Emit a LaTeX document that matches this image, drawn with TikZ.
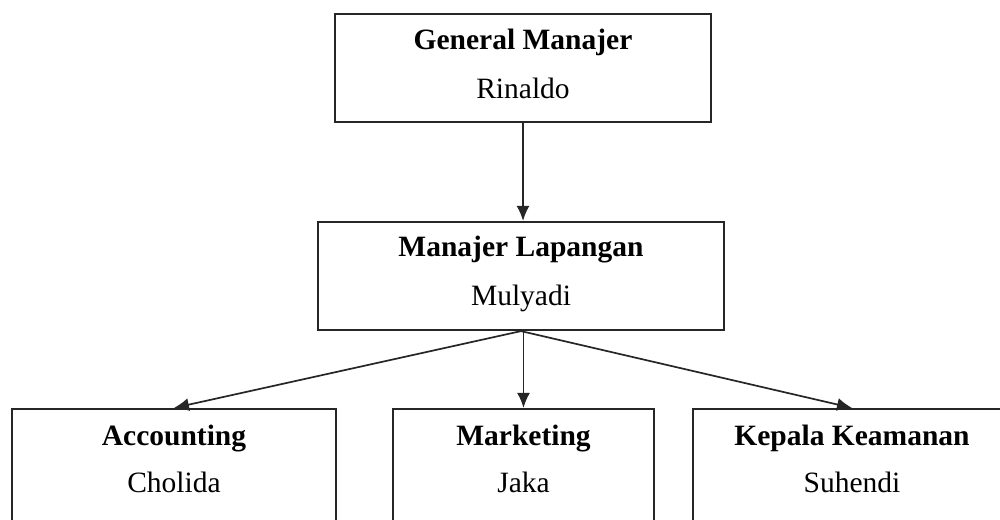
\documentclass[tikz,border=0pt]{standalone}
\usepackage{fontspec}
\setmainfont{Liberation Serif}
\usetikzlibrary{arrows.meta}
\begin{document}
\begin{tikzpicture}[x=1pt,y=-1pt,
  box/.style={draw=black!85, line width=2.2pt, rectangle, inner sep=0pt},
  title/.style={anchor=base, font=\fontsize{29.5}{32}\selectfont\bfseries, inner sep=0pt},
  person/.style={anchor=base, font=\fontsize{29.5}{32}\selectfont, inner sep=0pt},
  link/.style={draw=black!85, line width=1.7pt, -{Latex[length=15pt,width=13pt]}}]
\useasboundingbox (0,0) rectangle (1000,519);
\clip (0,0) rectangle (1000,519);
% boxes
\node[box, minimum width=376pt, minimum height=108pt] (gm) at (523,68) {};
\node[box, minimum width=406pt, minimum height=108pt] (ml) at (521,276) {};
\node[box, minimum width=324pt, minimum height=140pt] (acc) at (174,479) {};
\node[box, minimum width=261pt, minimum height=140pt] (mkt) at (523.5,479) {};
\node[box, minimum width=318pt, minimum height=140pt] (kep) at (852,479) {};
% texts
\node[title] (gmT) at (523,49) {General Manajer};
\node[person] (gmN) at (523,98) {Rinaldo};
\node[title] (mlT) at (521,256) {Manajer Lapangan};
\node[person] (mlN) at (521,305) {Mulyadi};
\node[title] (accT) at (174,445) {Accounting};
\node[person] (accN) at (174,492) {Cholida};
\node[title] (mktT) at (523.5,445) {Marketing};
\node[person] (mktN) at (523.5,492) {Jaka};
\node[title] (kepT) at (852,445) {Kepala Keamanan};
\node[person] (kepN) at (852,492) {Suhendi};
% connectors
\draw[link] (gm.south) -- (gm.south |- ml.north);
\draw[link] (ml.south) -- (acc.north);
\draw[link] (ml.south -| mkt.north) -- (mkt.north);
\draw[link] (ml.south) -- (kep.north);
\end{tikzpicture}
\end{document}
